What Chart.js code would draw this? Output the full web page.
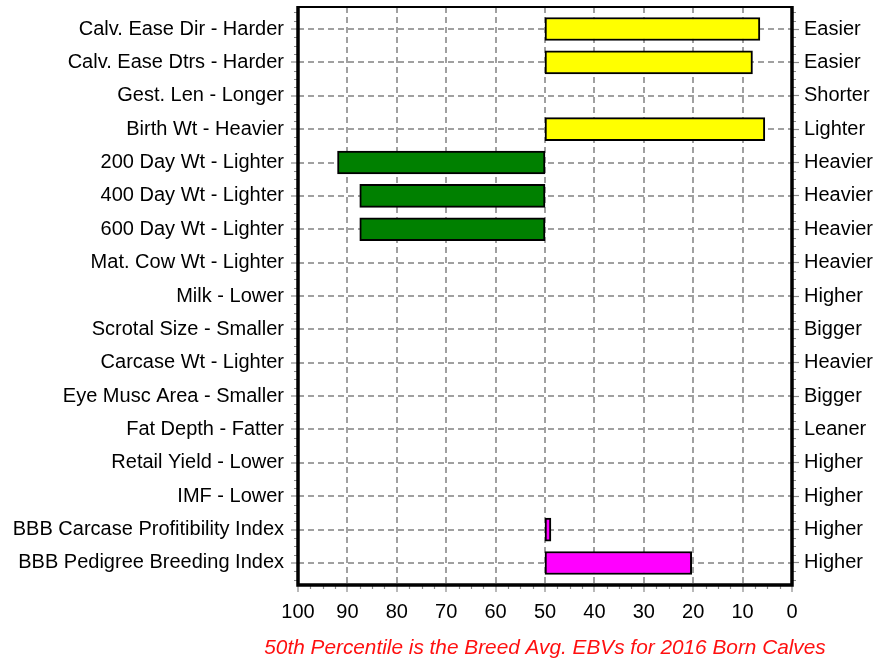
<!DOCTYPE html>
<html>
<head>
<meta charset="utf-8">
<script src="https://cdn.jsdelivr.net/npm/chart.js@4/dist/chart.umd.min.js"></script>
<style>
  html, body { margin: 0; padding: 0; background: #fff; overflow: hidden; }
  canvas { display: block; }
</style>
</head>
<body>
<canvas id="c" width="874" height="661"></canvas>
<script>
// ---- Data ----
const leftLabels = [
  'Calv. Ease Dir - Harder', 'Calv. Ease Dtrs - Harder', 'Gest. Len - Longer', 'Birth Wt - Heavier',
  '200 Day Wt - Lighter', '400 Day Wt - Lighter', '600 Day Wt - Lighter', 'Mat. Cow Wt - Lighter',
  'Milk - Lower', 'Scrotal Size - Smaller', 'Carcase Wt - Lighter', 'Eye Musc Area - Smaller',
  'Fat Depth - Fatter', 'Retail Yield - Lower', 'IMF - Lower', 'BBB Carcase Profitibility Index',
  'BBB Pedigree Breeding Index'
];
const rightLabels = [
  'Easier', 'Easier', 'Shorter', 'Lighter', 'Heavier', 'Heavier', 'Heavier', 'Heavier',
  'Higher', 'Bigger', 'Heavier', 'Bigger', 'Leaner', 'Higher', 'Higher', 'Higher', 'Higher'
];
const traitGroups = [
  'calving', 'calving', 'calving', 'calving', 'growth', 'growth', 'growth', 'growth',
  'growth', 'fertility', 'carcase', 'carcase', 'carcase', 'carcase', 'carcase', 'index', 'index'
];
const percentiles = [6.5, 8, null, 5.5, 92, 87.5, 87.5, null, null, null, null, null, null, null, null, 48.8, 20.3];
const breedAverage = 50;
const xTicks = [100, 90, 80, 70, 60, 50, 40, 30, 20, 10, 0];
const footerText = '50th Percentile is the Breed Avg. EBVs for 2016 Born Calves';

// ---- Styles ----
const groupColors = { calving: '#ffff00', growth: '#008000', fertility: '#008000', carcase: '#008000', index: '#ff00ff' };
const FONT = 'Liberation Sans, Arial, sans-serif';
const FS = 20;
const TEXT = '#000';
const GRID = '#a0a0a0';
const TICKC = '#8a8a8a';

const points = [];
const colors = [];
percentiles.forEach((v, i) => {
  if (v !== null) {
    points.push({ x: [breedAverage, v], y: i });
    colors.push(groupColors[traitGroups[i]]);
  }
});

const yMin = -0.66, yMax = leftLabels.length - 1 + 0.66;

const noPad = s => { s.paddingTop = 0; s.paddingBottom = 0; s.paddingLeft = 0; s.paddingRight = 0; };

const framePlugin = {
  id: 'frame',
  afterDraw(chart) {
    const { ctx, chartArea: a, scales } = chart;
    ctx.save();
    // minor ticks
    ctx.strokeStyle = TICKC;
    ctx.lineWidth = 1.2;
    ctx.beginPath();
    const xs = scales.x;
    for (let v = 0; v <= 100.001; v += 2.5) {
      if (Math.abs(v % 10) < 1e-6) continue;
      const px = Math.round(xs.getPixelForValue(v)) + 0.5;
      ctx.moveTo(px, a.bottom); ctx.lineTo(px, a.bottom + 4);
    }
    const ys = scales.y;
    for (let v = -0.5; v <= leftLabels.length - 0.5 + 0.001; v += 0.25) {
      if (Math.abs(v - Math.round(v)) < 1e-6) continue;
      const py = Math.round(ys.getPixelForValue(v)) + 0.5;
      ctx.moveTo(a.left - 4, py); ctx.lineTo(a.left, py);
      ctx.moveTo(a.right, py); ctx.lineTo(a.right + 4, py);
    }
    ctx.stroke();
    // frame
    ctx.strokeStyle = '#000';
    ctx.lineWidth = 2;
    ctx.beginPath();
    ctx.moveTo(a.left, a.top); ctx.lineTo(a.right, a.top);
    ctx.stroke();
    ctx.lineWidth = 3.5;
    ctx.beginPath();
    ctx.moveTo(a.left, a.top - 1); ctx.lineTo(a.left, a.bottom);
    ctx.lineTo(a.right, a.bottom); ctx.lineTo(a.right, a.top - 1);
    ctx.stroke();
    // footer
    ctx.fillStyle = '#ff1010';
    ctx.font = 'italic 20.8px ' + FONT;
    ctx.textAlign = 'center';
    ctx.textBaseline = 'middle';
    ctx.fillText(footerText, (a.left + a.right) / 2, 648);
    ctx.restore();
  }
};

new Chart(document.getElementById('c'), {
  type: 'bar',
  data: {
    datasets: [{
      data: points,
      backgroundColor: colors,
      borderColor: '#000',
      borderWidth: 2,
      borderSkipped: false,
      barThickness: 23,
      yAxisID: 'y'
    }]
  },
  options: {
    indexAxis: 'y',
    responsive: false,
    animation: false,
    devicePixelRatio: 1,
    layout: { padding: { top: 7, left: 0, right: 0, bottom: 0 } },
    plugins: { legend: { display: false }, tooltip: { enabled: false }, title: { display: false } },
    scales: {
      x: {
        type: 'linear',
        min: 0, max: 100, reverse: true, offset: false,
        afterBuildTicks: s => { s.ticks = xTicks.map(v => ({ value: v })); },
        afterFit: s => { s.height = 76; noPad(s); },
        grid: { offset: false, color: GRID, lineWidth: 2, tickLength: 7, tickColor: TICKC, tickWidth: 1.2, borderDash: [6, 4] },
        border: { display: false, dash: [6, 4] },
        ticks: { color: TEXT, font: { family: FONT, size: FS }, padding: 8, maxRotation: 0 }
      },
      y: {
        type: 'linear',
        position: 'left',
        min: yMin, max: yMax, reverse: true, offset: false,
        afterBuildTicks: s => { s.ticks = leftLabels.map((_, i) => ({ value: i })); },
        afterFit: s => { s.width = 298; noPad(s); },
        grid: { offset: false, color: GRID, lineWidth: 2, tickLength: 7, tickColor: TICKC, tickWidth: 1.2, borderDash: [6, 4] },
        border: { display: false, dash: [6, 4] },
        ticks: { color: TEXT, font: { family: FONT, size: FS }, padding: 7, autoSkip: false,
          callback: v => leftLabels[v] }
      },
      y2: {
        type: 'linear',
        position: 'right',
        min: yMin, max: yMax, reverse: true, offset: false,
        afterBuildTicks: s => { s.ticks = rightLabels.map((_, i) => ({ value: i })); },
        afterFit: s => { s.width = 82; noPad(s); },
        grid: { offset: false, drawOnChartArea: false, tickLength: 7, tickColor: TICKC, tickWidth: 1.2 },
        border: { display: false },
        ticks: { color: TEXT, font: { family: FONT, size: FS }, padding: 5, autoSkip: false,
          callback: v => rightLabels[v] }
      }
    }
  },
  plugins: [framePlugin]
});
</script>
</body>
</html>
